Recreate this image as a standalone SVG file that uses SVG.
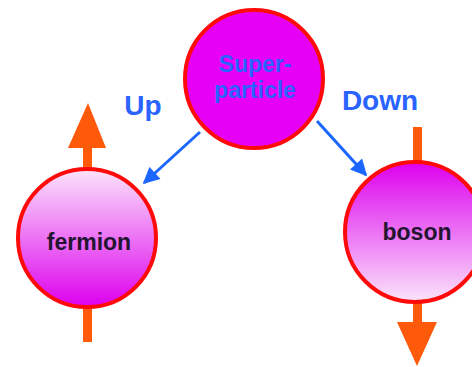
<svg xmlns="http://www.w3.org/2000/svg" width="472" height="367" viewBox="0 0 472 367">
  <style>
    .circ { stroke: #ff0a0a; stroke-width: 4; }
    .orange { fill: #ff5a0a; }
    .conn { stroke: #1a66ff; stroke-width: 3; fill: none; }
    .lbl { font-family: "Liberation Sans", Arial, sans-serif; font-weight: bold; text-anchor: middle; }
    .blue { fill: #2a63ff; }
    .dark { fill: #231530; }
  </style>
  <defs>
    <linearGradient id="gUp" x1="0" y1="0" x2="0" y2="1">
      <stop offset="0" stop-color="#fbe4fb"/>
      <stop offset="1" stop-color="#dd00ee"/>
    </linearGradient>
    <linearGradient id="gDown" x1="0" y1="0" x2="0" y2="1">
      <stop offset="0" stop-color="#dd00ee"/>
      <stop offset="1" stop-color="#fbe4fb"/>
    </linearGradient>
    <marker id="ah" viewBox="0 0 10 10" refX="9" refY="5" markerWidth="6" markerHeight="5.5" orient="auto" markerUnits="strokeWidth">
      <path d="M0,0 L10,5 L0,10 z" fill="#1a66ff"/>
    </marker>
  </defs>
  <rect width="472" height="367" fill="#ffffff"/>

  <g id="connectors">
    <line class="conn" x1="200" y1="132" x2="144" y2="183" marker-end="url(#ah)"/>
    <line class="conn" x1="317" y1="121" x2="366" y2="175" marker-end="url(#ah)"/>
  </g>

  <g id="superparticle">
    <circle class="circ" cx="254" cy="79" r="69" fill="#e600f5"/>
    <text class="lbl blue" x="255" y="72" font-size="23">Super-</text>
    <text class="lbl blue" x="255" y="98" font-size="23">particle</text>
  </g>

  <g id="fermion">
    <rect class="orange" x="83" y="146" width="9" height="24"/>
    <polygon class="orange" points="88,103 106,148 68,148"/>
    <rect class="orange" x="83" y="306" width="9" height="36"/>
    <circle class="circ" cx="87" cy="238" r="69" fill="url(#gUp)"/>
    <text class="lbl dark" x="89" y="250" font-size="23">fermion</text>
  </g>

  <g id="boson">
    <rect class="orange" x="413" y="127" width="9" height="36"/>
    <rect class="orange" x="413" y="302" width="9" height="22"/>
    <polygon class="orange" points="397,322 437,322 417,366"/>
    <circle class="circ" cx="415" cy="232" r="70" fill="url(#gDown)"/>
    <text class="lbl dark" x="417" y="240" font-size="23">boson</text>
  </g>

  <g id="labels">
    <text class="lbl blue" x="143" y="115" font-size="28">Up</text>
    <text class="lbl blue" x="380" y="110" font-size="28">Down</text>
  </g>
</svg>
